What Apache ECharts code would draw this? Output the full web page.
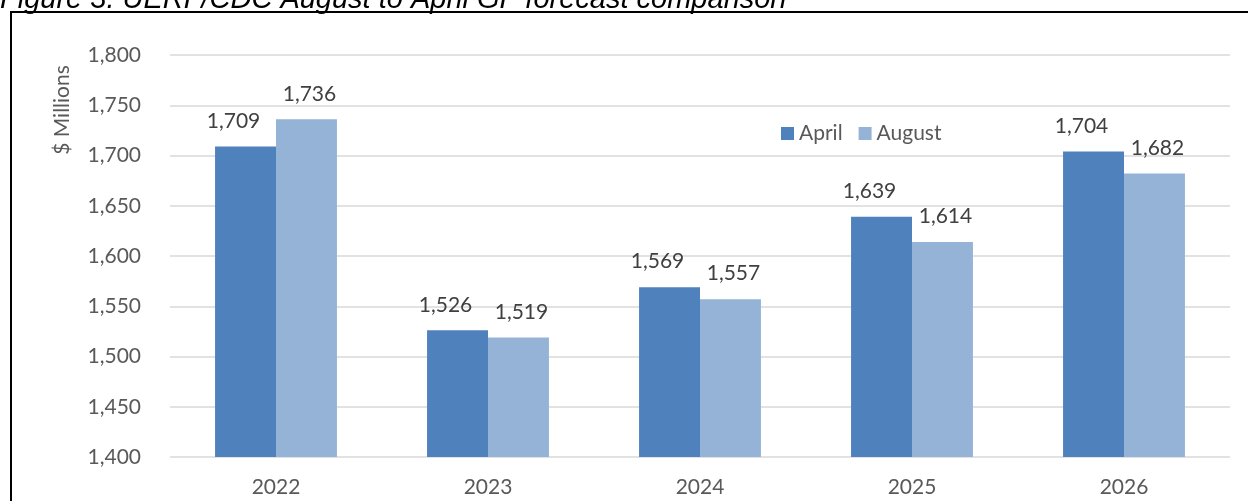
<!DOCTYPE html>
<html>
<head>
<meta charset="utf-8">
<script src="https://cdn.jsdelivr.net/npm/echarts@6/dist/echarts.min.js"></script>
<style>
  html, body { margin: 0; padding: 0; background: #fff; }
  #chart { width: 1248px; height: 501px; }
</style>
</head>
<body>
<div id="chart"></div>
<script>
var years = ["2022", "2023", "2024", "2025", "2026"];
var april = [1709, 1526, 1569, 1639, 1704];
var august = [1736, 1519, 1557, 1614, 1682];
var yMin = 1400, yMax = 1800, yStep = 50;

var font = "Lato, 'Open Sans', sans-serif";

var chart = echarts.init(document.getElementById("chart"));

function barLabel(dx) {
  return {
    show: true,
    position: "top",
    distance: 15,
    offset: [dx, 0],
    color: "#404040",
    fontSize: 21,
    fontFamily: font,
    formatter: function (p) { return p.value.toLocaleString("en-US"); }
  };
}

chart.setOption({
  backgroundColor: "#ffffff",
  animation: false,
  graphic: [
    {
      type: "text",
      left: 0,
      top: -15,
      style: {
        text: "Figure 3. UERF/CDC August to April GF forecast comparison",
        fontFamily: "'Liberation Sans', Arial, sans-serif",
        fontStyle: "italic",
        fontSize: 29,
        fill: "#000"
      }
    },
    {
      type: "rect",
      shape: { x: 11, y: 12, width: 1400, height: 700 },
      style: { fill: "none", stroke: "#000", lineWidth: 2 }
    },
    {
      // y axis title
      type: "text",
      x: 62,
      y: 110,
      rotation: Math.PI / 2,
      style: {
        text: "$ Millions",
        fontFamily: font,
        fontSize: 21,
        fill: "#595959",
        align: "center",
        verticalAlign: "middle"
      }
    }
  ],
  legend: {
    left: 776,
    top: 118,
    itemWidth: 13,
    itemHeight: 13,
    itemGap: 16,
    icon: "rect",
    textStyle: { color: "#595959", fontSize: 21, fontFamily: font },
    data: ["April", "August"]
  },
  grid: { left: 170, right: 18, top: 55, bottom: 44, containLabel: false, outerBoundsMode: "none" },
  xAxis: {
    type: "category",
    data: years,
    axisLine: { show: false },
    axisTick: { show: false },
    axisLabel: { color: "#595959", fontSize: 21, fontFamily: font, margin: 20 }
  },
  yAxis: {
    type: "value",
    min: yMin,
    max: yMax,
    interval: yStep,
    axisLine: { show: false },
    axisTick: { show: false },
    splitLine: { lineStyle: { color: "#d9d9d9", width: 1.5 } },
    axisLabel: {
      color: "#595959",
      fontSize: 21,
      fontFamily: font,
      margin: 29,
      formatter: function (v) { return v.toLocaleString("en-US"); }
    }
  },
  series: [
    {
      name: "April",
      type: "bar",
      data: april,
      barGap: "0%",
      barCategoryGap: "42.5%",
      itemStyle: { color: "#4f81bd" },
      label: barLabel(-12)
    },
    {
      name: "August",
      type: "bar",
      data: august,
      itemStyle: { color: "#95b3d7" },
      label: barLabel(3)
    }
  ]
});
</script>
</body>
</html>
